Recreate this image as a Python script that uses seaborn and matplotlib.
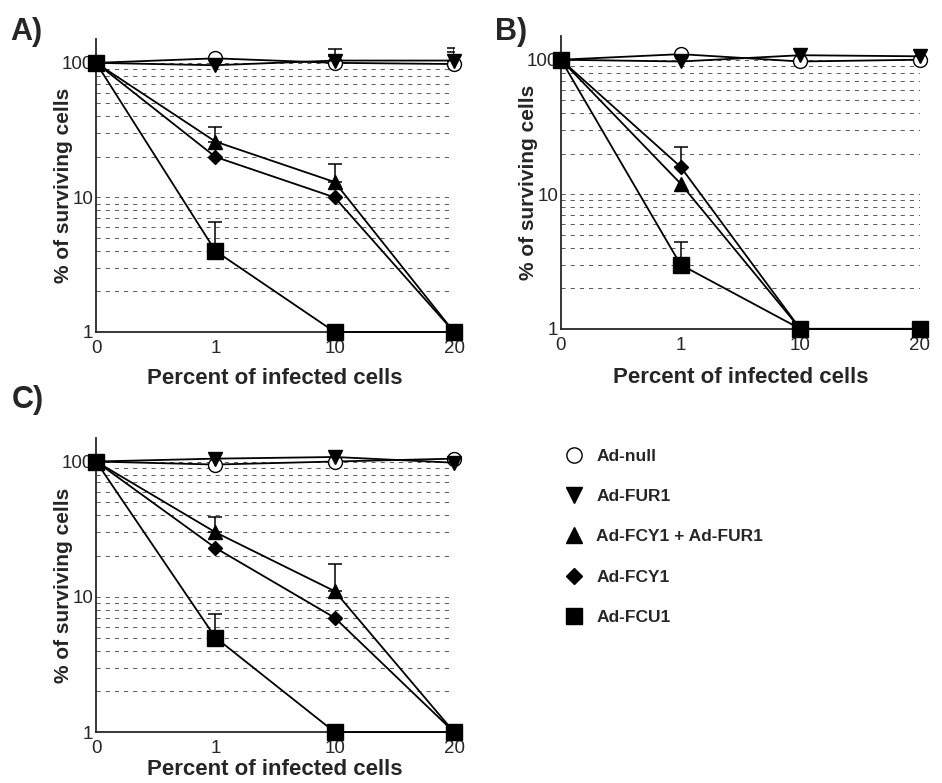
import numpy as np
import matplotlib
matplotlib.use("Agg")
import matplotlib.pyplot as plt
import seaborn as sns
from matplotlib.lines import Line2D
from matplotlib.ticker import LogLocator, NullFormatter

# ----------------------------------------------------------
# Data
# ----------------------------------------------------------

x_labels = ["0", "1", "10", "20"]
series_names = ["Ad-null", "Ad-FUR1", "Ad-FCY1 + Ad-FUR1", "Ad-FCY1", "Ad-FCU1"]

# panel A
a_null = [100, 108, 100, 98]
a_fur1 = [100, 96, 104, 104]
a_fcy_fur = [100, 26, 13, 1]
a_fcy1 = [100, 20, 10, 1]
a_fcu1 = [100, 4, 1, 1]
# top of the (upper only) error bars, nan = none
a_null_top = [np.nan, np.nan, 112, 120]
a_fur1_top = [np.nan, np.nan, 127, 128]
a_fcy_fur_top = [np.nan, 33.6, 17.6, np.nan]
a_fcu1_top = [np.nan, 6.6, np.nan, np.nan]

# panel B
b_null = [100, 110, 97, 100]
b_fur1 = [100, 97, 108, 106]
b_fcy_fur = [100, 12, 1, 1]
b_fcy1 = [100, 16, 1, 1]
b_fcu1 = [100, 3, 1, 1]
b_fcy1_top = [np.nan, 22.5, np.nan, np.nan]
b_fcu1_top = [np.nan, 4.4, np.nan, np.nan]

# panel C
c_null = [100, 95, 100, 105]
c_fur1 = [100, 105, 108, 98]
c_fcy_fur = [100, 30, 11, 1]
c_fcy1 = [100, 23, 7, 1]
c_fcu1 = [100, 5, 1, 1]
c_fcy_fur_top = [np.nan, 39, 17.6, np.nan]
c_fcu1_top = [np.nan, 7.5, np.nan, np.nan]

# ----------------------------------------------------------
# Style
# ----------------------------------------------------------

sns.set_style("ticks")
plt.rcParams["font.family"] = ["Liberation Sans", "DejaVu Sans"]

markers = {
    "Ad-null": dict(marker="o", ms=10, mfc="white"),
    "Ad-FUR1": dict(marker="v", ms=10, mfc="black"),
    "Ad-FCY1 + Ad-FUR1": dict(marker="^", ms=10, mfc="black"),
    "Ad-FCY1": dict(marker="D", ms=7, mfc="black"),
    "Ad-FCU1": dict(marker="s", ms=11, mfc="black"),
}

xpos = np.arange(len(x_labels))


def draw_panel(ax, values, tops, xpad):
    for i, name in enumerate(series_names):
        m = markers[name]
        sns.lineplot(x=xpos, y=values[name], ax=ax, color="black", lw=1.3,
                     marker=m["marker"], markersize=m["ms"],
                     markerfacecolor=m["mfc"], markeredgecolor="black",
                     markeredgewidth=1.0, clip_on=False, zorder=3 + i)
        if name in tops:
            top = np.array(tops[name], dtype=float)
            vals = np.array(values[name], dtype=float)
            ok = ~np.isnan(top)
            ax.errorbar(xpos[ok], vals[ok], yerr=[np.zeros(ok.sum()), top[ok] - vals[ok]],
                        fmt="none", ecolor="black", elinewidth=1.1, capsize=5,
                        capthick=1.1, zorder=2)

    ax.set_yscale("log")
    ax.set_ylim(1, 150)
    ax.set_xlim(0, 3)
    ax.set_xticks(xpos)
    ax.set_xticklabels(x_labels, fontsize=13.5)
    ax.set_yticks([1, 10, 100])
    ax.set_yticklabels(["1", "10", "100"], fontsize=13.5)
    ax.yaxis.set_minor_locator(LogLocator(base=10, subs=np.arange(2, 10)))
    ax.yaxis.set_minor_formatter(NullFormatter())
    ax.tick_params(axis="y", which="both", length=0, pad=2)
    ax.tick_params(axis="x", length=0, pad=6)
    ax.yaxis.grid(True, which="both", linestyle=(0, (5, 6)), color="0.25", lw=0.6)
    sns.despine(ax=ax)
    ax.spines["left"].set_linewidth(1.3)
    ax.spines["bottom"].set_linewidth(1.3)
    ax.set_xlabel("Percent of infected cells", fontsize=16, fontweight="bold", labelpad=xpad)
    ax.set_ylabel("% of surviving cells", fontsize=15, fontweight="bold", labelpad=-8)


fig = plt.figure(figsize=(9.42, 7.83), dpi=100)
ax_a = fig.add_axes([0.102, 0.576, 0.380, 0.374])
ax_b = fig.add_axes([0.5955, 0.580, 0.381, 0.374])
ax_c = fig.add_axes([0.102, 0.065, 0.380, 0.376])

draw_panel(ax_a,
           {"Ad-null": a_null, "Ad-FUR1": a_fur1, "Ad-FCY1 + Ad-FUR1": a_fcy_fur,
            "Ad-FCY1": a_fcy1, "Ad-FCU1": a_fcu1},
           {"Ad-null": a_null_top, "Ad-FUR1": a_fur1_top,
            "Ad-FCY1 + Ad-FUR1": a_fcy_fur_top, "Ad-FCU1": a_fcu1_top}, 8)
draw_panel(ax_b,
           {"Ad-null": b_null, "Ad-FUR1": b_fur1, "Ad-FCY1 + Ad-FUR1": b_fcy_fur,
            "Ad-FCY1": b_fcy1, "Ad-FCU1": b_fcu1},
           {"Ad-FCY1": b_fcy1_top, "Ad-FCU1": b_fcu1_top}, 9)
draw_panel(ax_c,
           {"Ad-null": c_null, "Ad-FUR1": c_fur1, "Ad-FCY1 + Ad-FUR1": c_fcy_fur,
            "Ad-FCY1": c_fcy1, "Ad-FCU1": c_fcu1},
           {"Ad-FCY1 + Ad-FUR1": c_fcy_fur_top, "Ad-FCU1": c_fcu1_top}, 1)

fig.text(0.011, 0.978, "A)", fontsize=22, fontweight="bold", va="top")
fig.text(0.525, 0.978, "B)", fontsize=22, fontweight="bold", va="top")
fig.text(0.013, 0.508, "C)", fontsize=22, fontweight="bold", va="top")

# ----------------------------------------------------------
# Legend
# ----------------------------------------------------------

handles = []
for name in series_names:
    m = markers[name]
    handles.append(Line2D([], [], ls="none", marker=m["marker"], markersize=m["ms"] + 1,
                          markerfacecolor=m["mfc"], markeredgecolor="black"))
fig.legend(handles, series_names, loc="upper left", bbox_to_anchor=(0.574, 0.447),
           frameon=False, labelspacing=1.45, handletextpad=0.3,
           prop={"weight": "bold", "size": 12.5})

plt.savefig("out.png", dpi=100)
plt.close()
